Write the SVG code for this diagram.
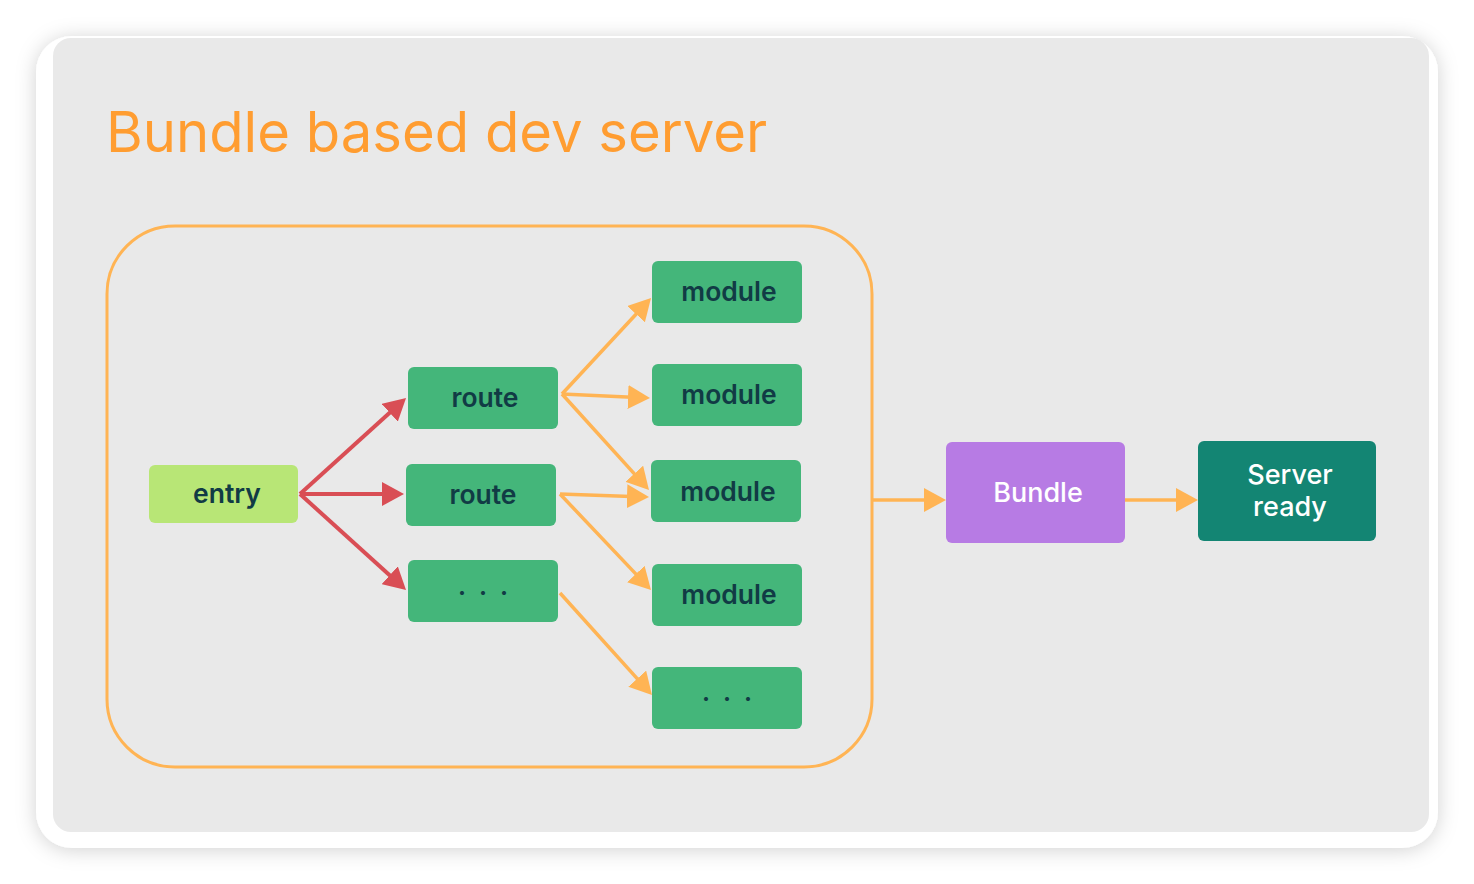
<svg xmlns="http://www.w3.org/2000/svg" width="1474" height="884" viewBox="0 0 1474 884">
<style>
.node{fill:#44B67A}
.lbl{font-family:Inter,"Noto Sans",sans-serif;font-size:26.5px;font-weight:600;fill:#113B45;text-anchor:middle}
.dots{font-family:Inter,"Noto Sans",sans-serif;font-size:24px;font-weight:700;fill:#113B45;text-anchor:middle;letter-spacing:4px}
.wlbl{font-family:Inter,"Noto Sans",sans-serif;font-size:27px;font-weight:500;fill:#FFFFFF;text-anchor:middle}
.red{stroke:#D94E55;stroke-width:4;fill:none;marker-end:url(#ahR)}
.org{stroke:#FFB454;stroke-width:3.5;fill:none;marker-end:url(#ahO)}
</style>
<defs>
<filter id="sh" x="-10%" y="-10%" width="120%" height="120%">
<feDropShadow dx="0" dy="2" stdDeviation="10" flood-color="#000" flood-opacity="0.18"/>
</filter>
<marker id="ahR" markerUnits="userSpaceOnUse" viewBox="0 0 22 24" markerWidth="22" markerHeight="24" refX="4" refY="12" orient="auto">
<path d="M0,0 L22,12 L0,24 z" fill="#D94E55"/>
</marker>
<marker id="ahO" markerUnits="userSpaceOnUse" viewBox="0 0 22 24" markerWidth="22" markerHeight="24" refX="4" refY="12" orient="auto">
<path d="M0,0 L22,12 L0,24 z" fill="#FFB454"/>
</marker>
</defs>
<rect width="1474" height="884" fill="#FFFFFF"/>
<rect x="36" y="36" width="1402" height="812" rx="36" fill="#FFFFFF" filter="url(#sh)"/>
<rect x="53" y="38" width="1376" height="794" rx="18" fill="#E9E9E9"/>
<text x="106" y="152" font-family="Inter,'Noto Sans',sans-serif" font-size="56.2" fill="#FF9D31">Bundle based dev server</text>
<rect id="container" x="107" y="226" width="765" height="541" rx="68" fill="none" stroke="#FFB454" stroke-width="3"/>
<g id="connectors">
<line class="red" x1="300" y1="494" x2="392.7" y2="410.1"/>
<line class="red" x1="300" y1="494" x2="386" y2="494"/>
<line class="red" x1="300" y1="494" x2="392.7" y2="577.9"/>
<line class="org" x1="562" y1="394" x2="638.8" y2="311.2"/>
<line class="org" x1="562" y1="394" x2="632" y2="397.2"/>
<line class="org" x1="562" y1="394" x2="636.9" y2="476.7"/>
<line class="org" x1="560" y1="494" x2="631" y2="496.4"/>
<line class="org" x1="560" y1="494" x2="638.6" y2="576.9"/>
<line class="org" x1="560" y1="593" x2="639.9" y2="681.6"/>
<line class="org" x1="872" y1="500" x2="928" y2="500"/>
<line class="org" x1="1125" y1="500" x2="1180" y2="500"/>
</g>
<g id="entry"><rect x="149" y="465" width="149" height="58" rx="6" fill="#B8E676"/><text class="lbl" x="227" y="503">entry</text></g>
<g id="route1"><rect class="node" x="408" y="367" width="150" height="62" rx="6"/><text class="lbl" x="485" y="407">route</text></g>
<g id="route2"><rect class="node" x="406" y="464" width="150" height="62" rx="6"/><text class="lbl" x="483" y="504">route</text></g>
<g id="route3"><rect class="node" x="408" y="560" width="150" height="62" rx="6"/><text class="dots" x="485" y="595">. . .</text></g>
<g id="module1"><rect class="node" x="652" y="261" width="150" height="62" rx="6"/><text class="lbl" x="729" y="301">module</text></g>
<g id="module2"><rect class="node" x="652" y="364" width="150" height="62" rx="6"/><text class="lbl" x="729" y="404">module</text></g>
<g id="module3"><rect class="node" x="651" y="460" width="150" height="62" rx="6"/><text class="lbl" x="728" y="501">module</text></g>
<g id="module4"><rect class="node" x="652" y="564" width="150" height="62" rx="6"/><text class="lbl" x="729" y="604">module</text></g>
<g id="module5"><rect class="node" x="652" y="667" width="150" height="62" rx="6"/><text class="dots" x="729" y="701">. . .</text></g>
<g id="bundle"><rect x="946" y="442" width="179" height="101" rx="6" fill="#B77BE4"/><text class="wlbl" x="1038" y="502">Bundle</text></g>
<g id="server"><rect x="1198" y="441" width="178" height="100" rx="6" fill="#138573"/><text class="wlbl" x="1290" y="484">Server</text><text class="wlbl" x="1290" y="516">ready</text></g>
</svg>
